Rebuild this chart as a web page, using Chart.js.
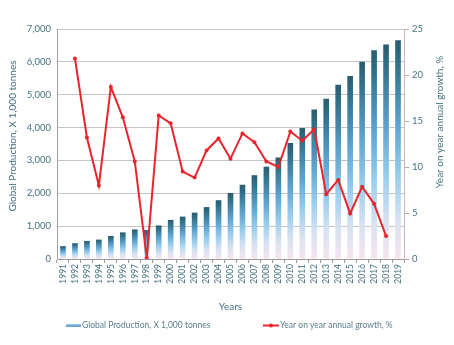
<!DOCTYPE html>
<html>
<head>
<meta charset="utf-8">
<script src="https://cdn.jsdelivr.net/npm/chart.js@4/dist/chart.umd.min.js"></script>
<style>
  html, body { margin: 0; padding: 0; background: #ffffff; }
  #wrap { position: relative; width: 454px; height: 345px; }
</style>
</head>
<body>
<div id="wrap"><canvas id="chart" width="454" height="345"></canvas></div>
<script>
// Years on the category axis
const years = ['1991','1992','1993','1994','1995','1996','1997','1998','1999','2000',
  '2001','2002','2003','2004','2005','2006','2007','2008','2009','2010',
  '2011','2012','2013','2014','2015','2016','2017','2018','2019'];

// Global production, thousand tonnes (left axis)
const production = [380, 470, 540, 580, 690, 800, 890, 870, 1010, 1180,
  1280, 1400, 1570, 1780, 2000, 2250, 2540, 2800, 3080, 3520,
  3980, 4540, 4870, 5290, 5560, 5990, 6340, 6520, 6650];

// Year-on-year growth, % (right axis)
const growth = [null, 21.8, 13.2, 8.0, 18.7, 15.4, 10.6, 0.1, 15.6, 14.75,
  9.5, 8.85, 11.8, 13.1, 10.9, 13.65, 12.7, 10.6, 10.0, 13.85,
  12.85, 14.1, 7.05, 8.6, 4.95, 7.85, 6.0, 2.5, null];

const leftTicks = { min: 0, max: 7000, step: 1000 };
const rightTicks = { min: 0, max: 25, step: 5 };

const seriesNames = ['Global Production, X 1,000 tonnes', 'Year on year annual growth, %'];
const axisTitles = { x: 'Years', left: 'Global Production, X 1,000 tonnes', right: 'Year on year annual growth, %' };

const FONT = 'Lato, "Open Sans", sans-serif';
const TEXT = '#44727f';
const RED = '#e8242c';

function barGradient(ctx) {
  const chart = ctx.chart;
  if (!chart.chartArea || ctx.type !== 'data') return '#6fb0dc';
  const y = chart.scales.y;
  const top = y.getPixelForValue(ctx.raw);
  const bot = y.getPixelForValue(0);
  if (!isFinite(top) || bot - top < 1) return '#6fb0dc';
  const g = chart.ctx.createLinearGradient(0, top, 0, bot);
  g.addColorStop(0, '#285d70');
  g.addColorStop(0.12, '#34728e');
  g.addColorStop(0.38, '#5ca3cf');
  g.addColorStop(0.62, '#98cdef');
  g.addColorStop(0.82, '#d6e2f2');
  g.addColorStop(1, '#f8e4f0');
  return g;
}

// Axis titles and legend drawn on top of the chart
const decorations = {
  id: 'decorations',
  afterDraw(chart) {
    const c = chart.ctx;
    const area = chart.chartArea;
    c.save();
    c.fillStyle = TEXT;
    c.textAlign = 'center';
    c.textBaseline = 'middle';
    c.font = '10px ' + FONT;
    c.fillText(axisTitles.x, (area.left + area.right) / 2, 307);

    c.save();
    c.translate(13, 136);
    c.rotate(-Math.PI / 2);
    c.fillText(axisTitles.left, 0, 0);
    c.restore();

    c.save();
    c.translate(440, 122);
    c.rotate(-Math.PI / 2);
    c.fillText(axisTitles.right, 0, 0);
    c.restore();

    // legend
    const ly = 325.5;
    const lg = c.createLinearGradient(0, ly - 2, 0, ly + 2);
    lg.addColorStop(0, '#a9d2f0');
    lg.addColorStop(1, '#4c8fbf');
    c.fillStyle = lg;
    c.fillRect(66, ly - 1.5, 15, 3);

    c.strokeStyle = RED;
    c.lineWidth = 2;
    c.beginPath();
    c.moveTo(263, ly);
    c.lineTo(279, ly);
    c.stroke();
    c.fillStyle = RED;
    c.beginPath();
    c.arc(271, ly, 2, 0, Math.PI * 2);
    c.fill();

    c.fillStyle = '#5b7d89';
    c.textAlign = 'left';
    c.font = '8.5px ' + FONT;
    c.fillText(chart.data.datasets[1].label, 82, ly);
    c.fillText(chart.data.datasets[0].label, 280, ly);
    c.restore();
  }
};

new Chart(document.getElementById('chart'), {
  data: {
    labels: years,
    datasets: [
      {
        type: 'line',
        label: seriesNames[1],
        data: growth,
        yAxisID: 'y1',
        borderColor: RED,
        backgroundColor: RED,
        borderWidth: 2,
        pointRadius: 2,
        pointBorderWidth: 0,
        pointBackgroundColor: RED,
        tension: 0,
        spanGaps: false,
        order: 0
      },
      {
        type: 'bar',
        label: seriesNames[0],
        data: production,
        yAxisID: 'y',
        backgroundColor: barGradient,
        borderWidth: 0,
        barThickness: 5,
        order: 1
      }
    ]
  },
  options: {
    responsive: false,
    animation: false,
    devicePixelRatio: 1,
    layout: { padding: { top: 29, bottom: 46, left: 0, right: 0 } },
    plugins: { legend: { display: false }, tooltip: { enabled: false } },
    scales: {
      x: {
        type: 'category',
        offset: true,
        grid: { offset: true, drawOnChartArea: false, tickLength: 4, color: '#9a9a9a' },
        border: { color: '#9a9a9a' },
        ticks: {
          color: TEXT, font: { family: FONT, size: 8.5 },
          minRotation: 90, maxRotation: 90, autoSkip: false, padding: 1
        },
        afterFit(s) { s.height = 40; }
      },
      y: {
        position: 'left',
        min: leftTicks.min, max: leftTicks.max,
        ticks: { stepSize: leftTicks.step, color: TEXT, font: { family: FONT, size: 9.5 }, padding: 6 },
        grid: { color: '#c4c4c4', drawTicks: false },
        border: { color: '#a0a0a0' },
        afterFit(s) { s.width = 57; }
      },
      y1: {
        position: 'right',
        min: rightTicks.min, max: rightTicks.max,
        ticks: { stepSize: rightTicks.step, color: TEXT, font: { family: FONT, size: 9.5 }, padding: 3 },
        grid: { drawOnChartArea: false, tickLength: 5, color: '#b8a8b0' },
        border: { color: '#c9b8c2' },
        afterFit(s) { s.width = 50; }
      }
    }
  },
  plugins: [decorations]
});
</script>
</body>
</html>
